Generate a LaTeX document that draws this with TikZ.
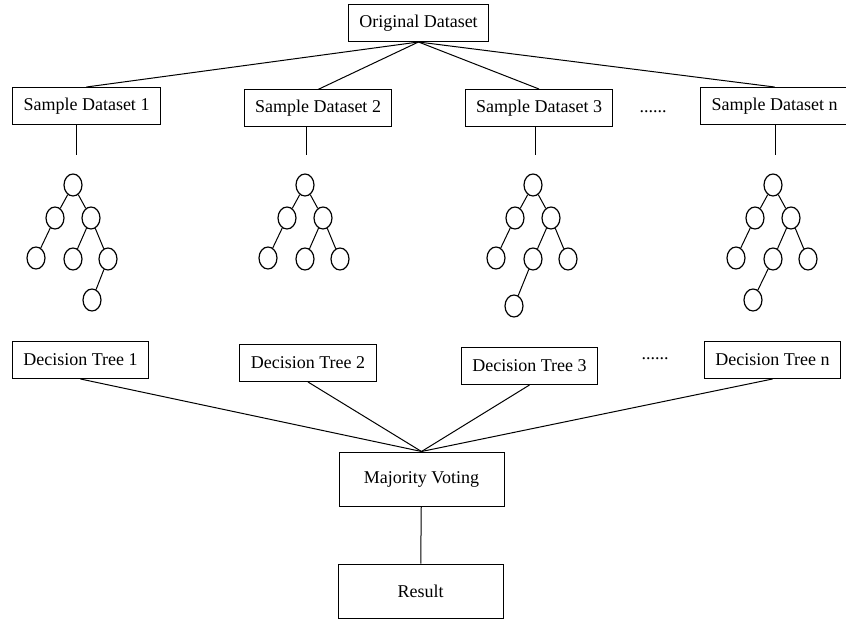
\documentclass[tikz,border=0pt]{standalone}
\usepackage{fontspec}
\setmainfont{Liberation Serif}
\usetikzlibrary{shapes.geometric}
\begin{document}
\begin{tikzpicture}[x = 1pt, y = -1pt,
		label text/.style = {font = \fontsize{18}{20}\selectfont},
		box/.style = {draw, label text, line width = 1pt, inner xsep = 11pt, minimum height = 37pt},
		bigbox/.style = {box, minimum width = 165pt, minimum height = 54pt},
		leaf/.style = {draw, ellipse, line width = 1.2pt, minimum width = 18pt, minimum height = 22pt, inner sep = 0pt},
		link/.style = {line width = 1pt}]
	\useasboundingbox (0,0) rectangle (846,620);
	
	\node[box] (orig) at (418.5,23) {Original Dataset};
	
	\foreach \i/\x/\y in {1/86.5/106, 2/318/108.5, 3/539/108}{
		\node[box] (sd\i) at (\x,\y) {Sample Dataset \i};
	}
	\node[box, minimum width = 142pt] (sdn) at (774.5,106) {Sample Dataset n};
	\node[label text] (dotsa) at (653,112) {......};
	
	\foreach \s in {sd1, sd2, sd3, sdn}{
		\draw[link] (orig.south) -- (\s.north);
	}
	
	\foreach \s/\x in {sd1/76, sd2/306, sd3/535, sdn/775}{
		\coordinate (\s-end) at (\x,155);
		\draw[link] (\s-end |- \s.south) -- (\s-end);
	}
	
	\foreach \t/\x in {1/73, 2/305, 3/533, 4/773}{
		\node[leaf] (r\t) at (\x,185) {};
		\node[leaf] (a\t) at (\x-18,218) {};
		\node[leaf] (b\t) at (\x+18,218) {};
		\node[leaf] (c\t) at (\x-37,258) {};
		\node[leaf] (d\t) at (\x,259) {};
		\node[leaf] (e\t) at (\x+35,259) {};
		\draw[link] (r\t) -- (a\t) (r\t) -- (b\t) (a\t) -- (c\t) (b\t) -- (d\t) (b\t) -- (e\t);
	}
	\node[leaf] (f1) at (92,300) {};
	\node[leaf] (f3) at (514,306) {};
	\node[leaf] (f4) at (753,300) {};
	\draw[link] (e1) -- (f1) (d3) -- (f3) (d4) -- (f4);
	
	\foreach \i/\x/\y in {1/80.5/360, 2/308/363, 3/529.5/366}{
		\node[box] (dt\i) at (\x,\y) {Decision Tree \i};
	}
	\node[box] (dtn) at (772.5,360) {Decision Tree n};
	\node[label text] (dotsb) at (655,359) {......};
	
	\node[bigbox] (mv) at (421.5,479) {Majority Voting};
	\node[bigbox] (res) at (420.5,591) {Result};
	
	\foreach \d in {dt1, dt2, dt3, dtn}{
		\draw[link] (\d.south) -- (mv.north);
	}
	\draw[link] (mv) -- (res);
\end{tikzpicture}
\end{document}
